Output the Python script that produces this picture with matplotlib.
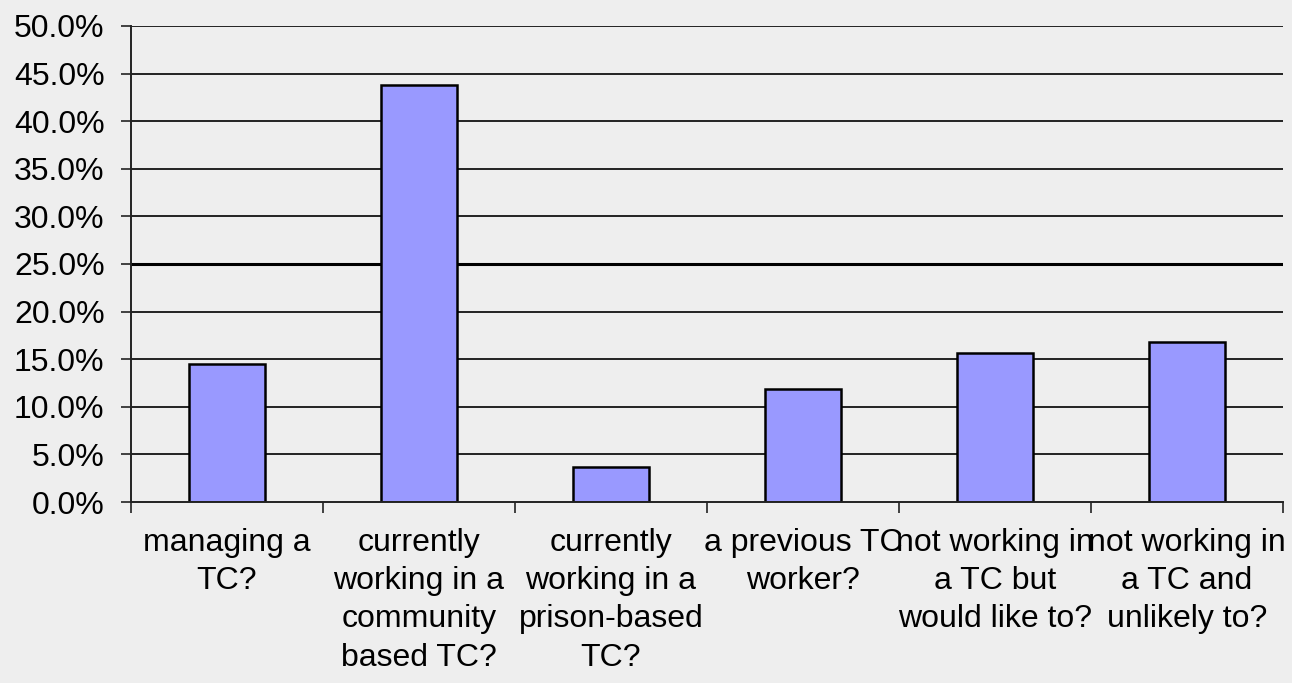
import matplotlib.pyplot as plt
from matplotlib.ticker import FuncFormatter

# Survey response shares
labels = ['managing a\nTC?',
          'currently\nworking in a\ncommunity\nbased TC?',
          'currently\nworking in a\nprison-based\nTC?',
          'a previous TC\nworker?',
          'not working in\na TC but\nwould like to?',
          'not working in\na TC and\nunlikely to?']
values = [14.5, 43.8, 3.7, 11.9, 15.6, 16.8]
y_ticks = [0, 5, 10, 15, 20, 25, 30, 35, 40, 45, 50]

plt.rcParams['font.family'] = ['Liberation Sans', 'DejaVu Sans']

fig = plt.figure(figsize=(12.92, 6.83), dpi=100, facecolor='#eeeeee')
ax = fig.add_axes([0.1014, 0.265, 0.8916, 0.697])
ax.set_facecolor('#eeeeee')

x = range(len(values))
for yv in y_ticks[1:]:
    ax.axhline(yv, color='black' if yv == 25 else '#222222',
               lw=2.2 if yv == 25 else 1.4, zorder=1)
ax.bar(x, values, width=0.4, color='#9999ff', edgecolor='black', linewidth=1.8, zorder=2)

ax.set_xlim(-0.5, len(values) - 0.5)
ax.set_ylim(0, 50)
ax.set_yticks(y_ticks)
ax.yaxis.set_major_formatter(FuncFormatter(lambda v, p: f'{v:.1f}%'))

ax.set_xticks([i - 0.5 for i in range(len(values) + 1)])
ax.set_xticklabels([])
ax.set_xticks(list(x), minor=True)
ax.set_xticklabels(labels, minor=True, linespacing=1.35)
ax.tick_params(axis='x', which='major', length=8, width=1.2, direction='out', color='#222222')
ax.tick_params(axis='x', which='minor', length=0, pad=19, labelsize=23)
ax.tick_params(axis='y', length=7, width=1.2, color='#222222', pad=12, labelsize=23)

for s in ['top', 'right']:
    ax.spines[s].set_visible(False)
for s in ['left', 'bottom']:
    ax.spines[s].set_linewidth(1.4)
    ax.spines[s].set_color('#222222')

fig.savefig('out.png', dpi=100, facecolor=fig.get_facecolor())
